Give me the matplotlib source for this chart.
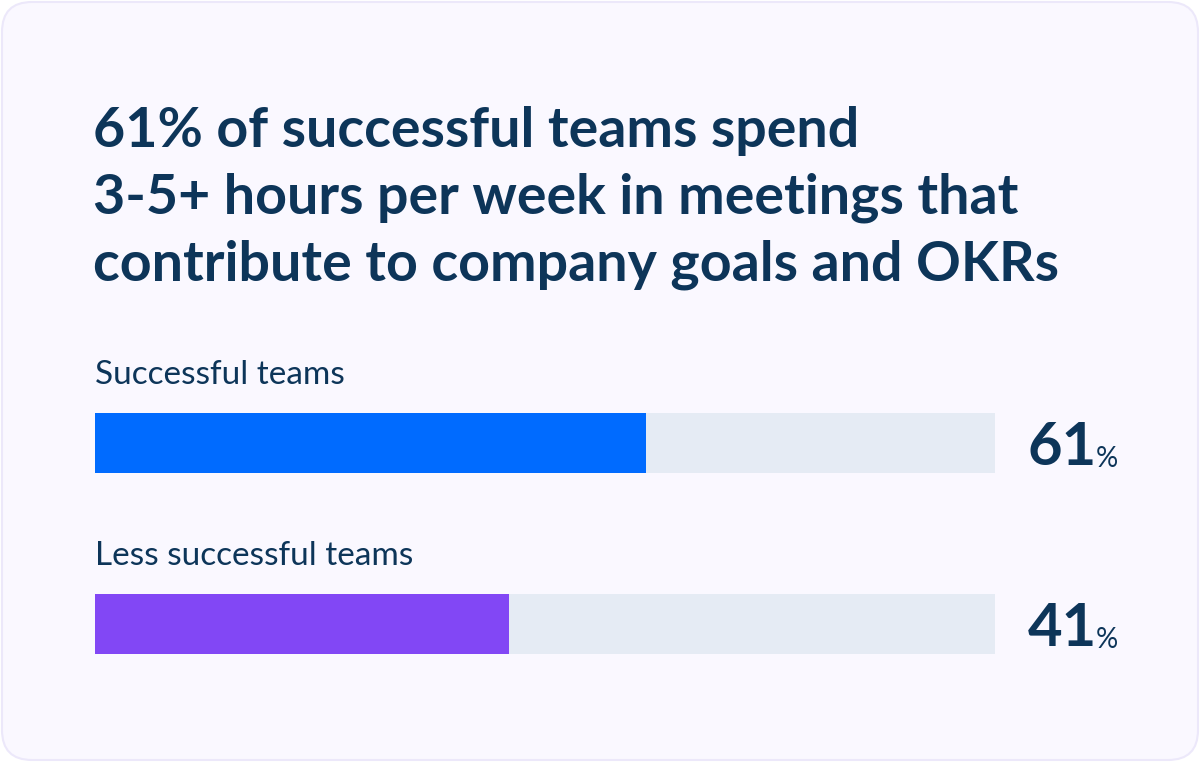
import matplotlib.pyplot as plt
from matplotlib.patches import FancyBboxPatch

# data
title_lines = [
    "61% of successful teams spend",
    "3-5+ hours per week in meetings that",
    "contribute to company goals and OKRs",
]
groups = ["Successful teams", "Less successful teams"]
label_pct = [61, 41]
bar_pct = [61.2, 46.0]   # drawn length of the filled part, as in the picture
colors = ["#006bff", "#8247f5"]

NAVY = "#0d3559"
TRACK = "#e5ebf4"
FONT = "Lato"

W, H = 1200, 762
fig = plt.figure(figsize=(W / 100, H / 100), dpi=100)
fig.patch.set_facecolor("white")

# background card in pixel space
bg = fig.add_axes([0, 0, 1, 1])
bg.set_xlim(0, W)
bg.set_ylim(H, 0)
bg.axis("off")
card = FancyBboxPatch((2, 2), W - 4, H - 4,
                      boxstyle="round,pad=0,rounding_size=30",
                      fc="#faf8ff", ec="#ece8fa", lw=1.5)
bg.add_patch(card)

for i, line in enumerate(title_lines):
    bg.text(93, 147 + i * 66.5, line, fontsize=40, fontweight="bold",
            color=NAVY, family=FONT, va="baseline", ha="left")

# bar axes: x in percent, track spans 95..995 px
row_top, row_gap, bar_h = 413, 181, 60
ax_top = row_top
ax_bot = row_top + row_gap + bar_h
ax = fig.add_axes([95 / W, 1 - ax_bot / H, 900 / W, (ax_bot - ax_top) / H])
ax.set_xlim(0, 100)
hb = bar_h / row_gap
ax.set_ylim(len(groups) - 1 + hb / 2, -hb / 2)
ax.axis("off")

ypos = list(range(len(groups)))
ax.barh(ypos, [100] * len(groups), height=hb, color=TRACK, lw=0)
ax.barh(ypos, bar_pct, height=hb, color=colors, lw=0)

for y, name, pct in zip(ypos, groups, label_pct):
    ax.text(0, y - hb / 2 - 0.16, name, fontsize=24, color=NAVY, family=FONT,
            ha="left", va="baseline")
    t = ax.text(103.6, y + 0.12, f"{pct}", fontsize=43, fontweight="bold",
                color=NAVY, family=FONT, ha="left", va="baseline")
    ax.annotate("%", xy=(1, 0), xycoords=t, xytext=(-1, 2),
                textcoords="offset points", fontsize=20, color=NAVY,
                family=FONT, ha="left", va="bottom")

fig.savefig("out.png", dpi=100, facecolor="white")
